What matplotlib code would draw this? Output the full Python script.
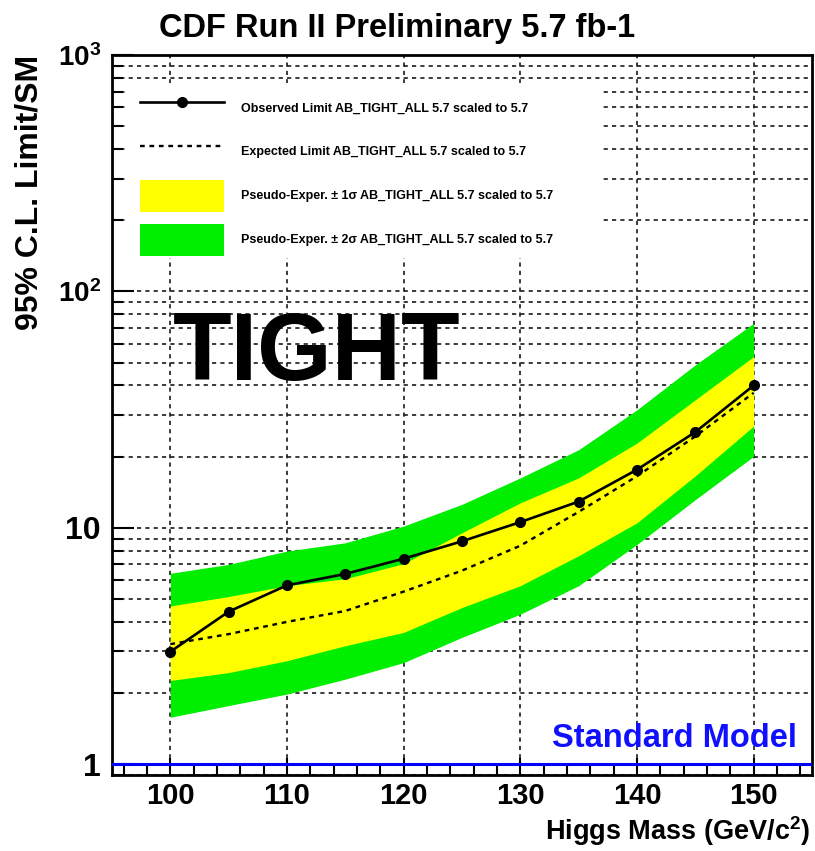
import matplotlib
matplotlib.use("Agg")
import numpy as np
import matplotlib.pyplot as plt
from matplotlib.ticker import MultipleLocator, LogLocator, NullFormatter
from matplotlib.patches import Rectangle, Patch
from matplotlib.lines import Line2D

plt.rcParams['font.family'] = ['Liberation Sans', 'DejaVu Sans']
plt.rcParams['font.weight'] = 'bold'
plt.rcParams['axes.labelweight'] = 'bold'
plt.rcParams['mathtext.fontset'] = 'custom'
plt.rcParams['mathtext.rm'] = 'Liberation Sans:bold'
plt.rcParams['mathtext.bf'] = 'Liberation Sans:bold'
plt.rcParams['mathtext.it'] = 'Liberation Sans:bold:italic'
plt.rcParams['mathtext.default'] = 'rm'

# Higgs mass points (GeV/c^2)
mass = [100, 105, 110, 115, 120, 125, 130, 135, 140, 145, 150]
# 95% C.L. limit / SM
observed = [2.99, 4.42, 5.71, 6.38, 7.40, 8.77, 10.57, 12.91, 17.62, 25.41, 40.0]
expected = [3.22, 3.55, 4.00, 4.45, 5.37, 6.59, 8.40, 11.68, 16.53, 24.37, 37.23]
plus2sig = [6.42, 7.00, 7.97, 8.64, 10.17, 12.57, 16.26, 21.39, 31.56, 48.9, 73.3]
plus1sig = [4.67, 5.12, 5.69, 6.09, 7.05, 9.53, 12.75, 16.26, 22.83, 34.79, 53.04]
minus1sig = [2.26, 2.44, 2.74, 3.17, 3.61, 4.60, 5.69, 7.62, 10.50, 16.58, 26.94]
minus2sig = [1.58, 1.77, 1.98, 2.29, 2.69, 3.44, 4.31, 5.69, 8.50, 13.16, 20.07]

ytick_vals = [1, 10, 100, 1000]
ytick_labels = ['1', '10', r'$10^{2}$', r'$10^{3}$']

legend_labels = [
    'Observed Limit AB_TIGHT_ALL 5.7 scaled to 5.7',
    'Expected Limit AB_TIGHT_ALL 5.7 scaled to 5.7',
    'Pseudo-Exper. \u00b1 1\u03c3 AB_TIGHT_ALL 5.7 scaled to 5.7',
    'Pseudo-Exper. \u00b1 2\u03c3 AB_TIGHT_ALL 5.7 scaled to 5.7',
]

GREEN = '#00ee00'
YELLOW = '#ffff00'
GRID_STYLE = dict(color='#1a1a1a', linestyle=(0, (2.5, 2.5)), linewidth=1.2)

fig = plt.figure(figsize=(8.15, 8.51), dpi=100)
ax = fig.add_axes([112 / 815, 76 / 851, 700 / 815, 720 / 851])
ax.set_yscale('log')
ax.set_xlim(95, 155)
ax.set_ylim(0.9, 1000)
ax.set_axisbelow(True)

# uncertainty bands
ax.fill_between(mass, minus2sig, plus2sig, color=GREEN, linewidth=0, zorder=2)
ax.fill_between(mass, minus1sig, plus1sig, color=YELLOW, linewidth=0, zorder=2.1)

# limits
ax.plot(mass, expected, color='black', linestyle=(0, (2, 2)), linewidth=1.7, zorder=3)
ax.plot(mass, observed, color='black', linewidth=1.9, marker='o', markersize=7, zorder=4)

# Standard Model reference
ax.axhline(1, color='#0000ff', linewidth=2.2, zorder=4)
ax.text(0.9786, 0.0389, 'Standard Model', transform=ax.transAxes, ha='right',
        va='baseline', color='#1010ff', fontsize=23.5, fontweight='bold', zorder=5)

# axes, ticks and grid
ax.xaxis.set_major_locator(MultipleLocator(10))
ax.xaxis.set_minor_locator(MultipleLocator(2))
ax.set_yticks(ytick_vals)
ax.set_yticklabels(ytick_labels)
ax.yaxis.set_minor_locator(LogLocator(base=10, subs=np.arange(2, 10), numticks=20))
ax.yaxis.set_minor_formatter(NullFormatter())

ax.tick_params(axis='x', which='major', direction='in', length=12, width=1.5,
               labelsize=21, pad=5)
ax.tick_params(axis='x', which='minor', direction='in', length=7, width=1.5)
ax.tick_params(axis='y', which='major', direction='in', length=16, width=1.5,
               labelsize=20, pad=8)
ax.tick_params(axis='y', which='minor', direction='in', length=8, width=1.5)

# plain integer labels are set a little larger than the power-of-ten ones
for lbl in ax.get_yticklabels()[:2]:
    lbl.set_fontsize(23)

ax.yaxis.grid(True, which='both', **GRID_STYLE)
ax.xaxis.grid(True, which='major', **GRID_STYLE)

for s in ax.spines.values():
    s.set_linewidth(2.0)

ax.set_xlabel(r'Higgs Mass (GeV/c$^{2}$)', fontsize=19.5, fontweight='bold', loc='right')
ax.xaxis.set_label_coords(0.998, -0.055)
ax.set_ylabel('95% C.L. Limit/SM', fontsize=23, fontweight='bold', loc='top')
ax.yaxis.set_label_coords(-0.097, 1.0)

# legend on a white panel
ax.add_patch(Rectangle((0.023, 0.718), 0.697 - 0.023, 0.961 - 0.718,
                       transform=ax.transAxes, facecolor='white',
                       edgecolor='none', zorder=1))
handles = [
    Line2D([], [], color='black', linewidth=1.9, marker='o', markersize=7),
    Line2D([], [], color='black', linewidth=1.7, linestyle=(0, (2, 2))),
    Patch(facecolor=YELLOW, edgecolor='none'),
    Patch(facecolor=GREEN, edgecolor='none'),
]
ax.legend(handles, legend_labels, loc='upper left', bbox_to_anchor=(0.0314, 0.957),
          bbox_transform=ax.transAxes, frameon=False, fontsize=9,
          handlelength=6.7, handleheight=3.56, labelspacing=0.96,
          handletextpad=1.42, borderpad=0.48, borderaxespad=0)

ax.text(0.087, 0.5486, 'TIGHT', transform=ax.transAxes, ha='left', va='baseline',
        fontsize=69, fontweight='bold', color='black', zorder=6)

fig.text(0.487, 1 - 37 / 851, 'CDF Run II Preliminary 5.7 fb-1', ha='center',
         va='baseline', fontsize=23.5, fontweight='bold')

fig.savefig('out.png', dpi=100)
